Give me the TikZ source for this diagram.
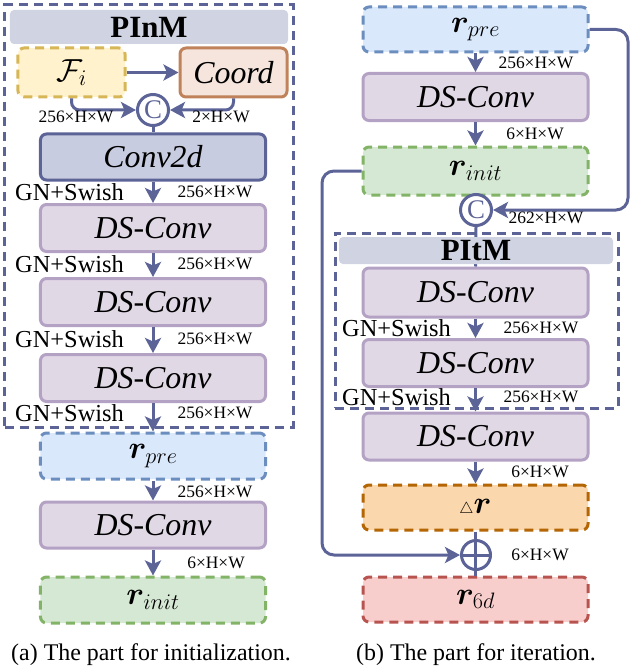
\RequirePackage{fix-cm}
\documentclass[tikz,border=0pt]{standalone}
\usepackage{amsmath,bm}
\usepackage{fontspec}
\setmainfont{Liberation Serif}
\usetikzlibrary{arrows.meta}
\definecolor{ln}{RGB}{92,99,150}
\definecolor{hdrfill}{RGB}{208,212,226}
\definecolor{yfill}{RGB}{255,242,204}
\definecolor{ydraw}{RGB}{214,182,86}
\definecolor{cofill}{RGB}{245,229,220}
\definecolor{codraw}{RGB}{192,130,90}
\definecolor{convfill}{RGB}{200,204,224}
\definecolor{dsfill}{RGB}{225,216,230}
\definecolor{dsdraw}{RGB}{180,162,196}
\definecolor{bfill}{RGB}{218,232,252}
\definecolor{bdraw}{RGB}{108,142,191}
\definecolor{gfill}{RGB}{213,232,212}
\definecolor{gdraw}{RGB}{130,179,102}
\definecolor{ofill}{RGB}{250,215,172}
\definecolor{odraw}{RGB}{180,101,4}
\definecolor{rfill}{RGB}{248,206,204}
\definecolor{rdraw}{RGB}{184,84,80}
\begin{document}
\begin{tikzpicture}[x=1bp,y=-1bp,
  box/.style={rounded corners=6bp, line width=3bp, minimum width=225bp, minimum height=47bp, inner sep=0pt, font=\rmfamily\fontsize{32}{36}\selectfont\itshape},
  dsbox/.style={box, fill=dsfill, draw=dsdraw},
  dashb/.style={dash pattern=on 9bp off 6bp},
  hdr/.style={fill=hdrfill, rounded corners=4bp, inner sep=0pt, font=\rmfamily\fontsize{31}{34}\selectfont\bfseries},
  dframe/.style={draw=ln, line width=3bp, dashb, inner sep=0pt},
  arr/.style={draw=ln, line width=3bp, -{Stealth[length=15bp,width=16bp,inset=3.5bp]}},
  conn/.style={draw=ln, line width=3bp},
  circ/.style={circle, draw=ln, line width=3bp, fill=white, minimum size=31bp, inner sep=0pt, text=ln, font=\rmfamily\fontsize{27}{27}\selectfont},
  sml/.style={font=\rmfamily\fontsize{17.5}{20}\selectfont, inner sep=0pt},
  gn/.style={font=\rmfamily\fontsize{24.5}{28}\selectfont, inner sep=0pt, anchor=west},
  captxt/.style={font=\rmfamily\fontsize{24}{28}\selectfont, inner sep=0pt}
]
\useasboundingbox (0,0) rectangle (630,672);

% ---------------- left panel ----------------
\node[dframe, minimum width=288bp, minimum height=422bp] (pinm) at (149,216) {};
\node[hdr, minimum width=278bp, minimum height=34bp] (h1) at (149,27) {PInM};
\node[box, fill=yfill, draw=ydraw, dashb, minimum width=107bp, minimum height=49bp] (fi) at (71.5,72.5) {$\mathcal{F}_i$};
\node[box, fill=cofill, draw=codraw, minimum width=107bp, minimum height=49bp] (coord) at (233.5,72.5) {Coord};
\node[circ] (c1) at (153,110) {C};
\node[box, fill=convfill, draw=ln, minimum height=46bp] (conv) at (153,157) {Conv2d};
\node[dsbox] (ds1) at (153,228) {DS-Conv};
\node[dsbox] (ds2) at (153,302) {DS-Conv};
\node[dsbox] (ds3) at (153,378) {DS-Conv};
\node[box, fill=bfill, draw=bdraw, dashb, minimum height=46bp] (rpre) at (153,456) {$\bm{r}_{pre}$};
\node[dsbox, minimum height=46bp] (ds4) at (153,525) {DS-Conv};
\node[box, fill=gfill, draw=gdraw, dashb, minimum height=46bp] (rinit) at (153,600) {$\bm{r}_{init}$};

\draw[arr] (fi) -- (coord);
\draw[arr, rounded corners=8bp] (fi.south) -- (fi.south |- c1) -- (c1.west);
\draw[arr, rounded corners=8bp] (coord.south) -- (coord.south |- c1) -- (c1.east);
\draw[conn] (c1.south) -- (conv.north);
\draw[arr] (conv.south) -- (ds1.north);
\draw[arr] (ds1.south) -- (ds2.north);
\draw[arr] (ds2.south) -- (ds3.north);
\draw[arr] (ds3.south) -- (rpre.north);
\draw[arr] (rpre.south) -- (ds4.north);
\draw[arr] (ds4.south) -- (rinit.north);

\node[sml] (l1) at (76,117) {256×H×W};
\node[sml] (l2) at (221,117) {2×H×W};
\node[gn] (g1) at (15,192) {GN+Swish};
\node[gn] (g2) at (15,264) {GN+Swish};
\node[gn] (g3) at (15,339) {GN+Swish};
\node[gn] (g4) at (15,413) {GN+Swish};
\node[sml] (s1) at (215,192) {256×H×W};
\node[sml] (s2) at (215,264) {256×H×W};
\node[sml] (s3) at (215,339) {256×H×W};
\node[sml] (s4) at (215,413) {256×H×W};
\node[sml] (s5) at (215,492) {256×H×W};
\node[sml] (s6) at (216,563) {6×H×W};
\node[captxt] (capa) at (151,655) {(a) The part for initialization.};

% ---------------- right panel ----------------
\node[box, fill=bfill, draw=bdraw, dashb, minimum height=45bp] (rpre2) at (475.5,29.5) {$\bm{r}_{pre}$};
\node[dsbox] (ds5) at (475.5,97) {DS-Conv};
\node[box, fill=gfill, draw=gdraw, dashb, minimum height=48bp] (rinit2) at (475.5,171) {$\bm{r}_{init}$};
\node[circ] (c2) at (476,210) {C};
\node[dframe, minimum width=283bp, minimum height=175bp] (pitm) at (476.5,320.5) {};
\node[dsbox, minimum height=49bp] (ds6) at (475.5,292.5) {DS-Conv};
\draw[conn] (c2.south) -- (ds6.north);
\node[hdr, minimum width=274bp, minimum height=27bp] (h2) at (476,250.5) {PItM};
\node[dsbox] (ds7) at (475.5,363) {DS-Conv};
\node[dsbox] (ds8) at (475.5,436.5) {DS-Conv};
\node[box, fill=ofill, draw=odraw, dashb, minimum height=45bp] (dr) at (475.5,507.5) {${\scriptscriptstyle\triangle}\bm{r}$};
\node[box, fill=rfill, draw=rdraw, dashb, minimum height=45bp] (r6d) at (475.5,599.5) {$\bm{r}_{6d}$};
\node[circle, draw=ln, line width=3bp, minimum size=29bp, inner sep=0pt] (plus) at (476,555) {};

\draw[arr] (rpre2.south) -- (ds5.north);
\draw[arr] (ds5.south) -- (rinit2.north);
\draw[arr] (ds6.south) -- (ds7.north);
\draw[arr] (ds7.south) -- (ds8.north);
\draw[arr] (ds8.south) -- (dr.north);
\draw[conn] (dr.south) -- (r6d.north);
\draw[conn] (plus.west) -- (plus.east);
\coordinate (ra) at (628,29.5);
\coordinate (rb) at (628,210);
\draw[arr, rounded corners=12bp] (rpre2.east) -- (ra) -- (rb) -- (c2.east);
\coordinate (la) at (322,171);
\coordinate (lb) at (322,555);
\draw[arr, rounded corners=12bp] (rinit2.west) -- (la) -- (lb) -- (plus.west);

\node[sml] (t1) at (536,63) {256×H×W};
\node[sml] (t2) at (535,134) {6×H×W};
\node[sml] (t3) at (546,218) {262×H×W};
\node[gn] (g5) at (342,328) {GN+Swish};
\node[gn] (g6) at (342,397) {GN+Swish};
\node[sml] (t4) at (541,328) {256×H×W};
\node[sml] (t5) at (541,397) {256×H×W};
\node[sml] (t6) at (540,472) {6×H×W};
\node[sml] (t7) at (540,555) {6×H×W};
\node[captxt] (capb) at (476,655) {(b) The part for iteration.};
\end{tikzpicture}
\end{document}
